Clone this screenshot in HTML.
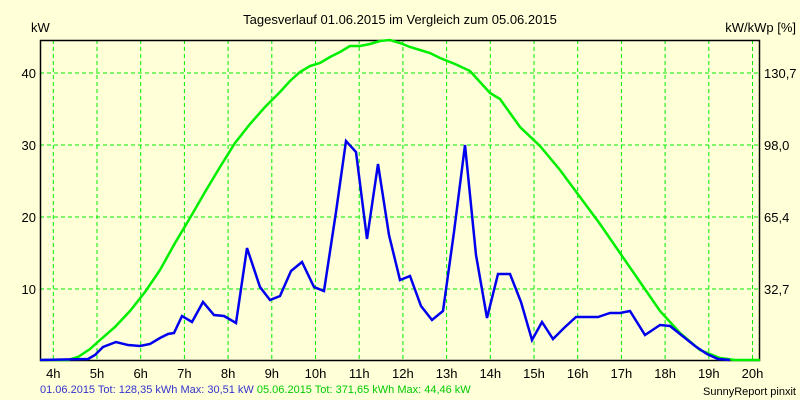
<!DOCTYPE html>
<html><head><meta charset="utf-8"><style>
html,body{margin:0;padding:0;background:#FFFFD8;}
svg{display:block;font-family:"Liberation Sans",sans-serif;}
</style></head><body>
<svg width="800" height="400" viewBox="0 0 800 400">
<rect width="800" height="400" fill="#FFFFD8"/>
<text x="400" y="24" font-size="13" text-anchor="middle" fill="#000">Tagesverlauf 01.06.2015 im Vergleich zum 05.06.2015</text>
<text x="31" y="32" font-size="13" fill="#000">kW</text>
<text x="796" y="32" font-size="13" text-anchor="end" fill="#000">kW/kWp [%]</text>
<g stroke="#00EE00" stroke-width="1" stroke-dasharray="4,3">
<line x1="53.3" y1="40" x2="53.3" y2="360"/><line x1="97" y1="40" x2="97" y2="360"/><line x1="140.7" y1="40" x2="140.7" y2="360"/><line x1="184.4" y1="40" x2="184.4" y2="360"/><line x1="228.1" y1="40" x2="228.1" y2="360"/><line x1="271.8" y1="40" x2="271.8" y2="360"/><line x1="315.5" y1="40" x2="315.5" y2="360"/><line x1="359.2" y1="40" x2="359.2" y2="360"/><line x1="402.9" y1="40" x2="402.9" y2="360"/><line x1="446.6" y1="40" x2="446.6" y2="360"/><line x1="490.3" y1="40" x2="490.3" y2="360"/><line x1="534" y1="40" x2="534" y2="360"/><line x1="577.7" y1="40" x2="577.7" y2="360"/><line x1="621.4" y1="40" x2="621.4" y2="360"/><line x1="665.1" y1="40" x2="665.1" y2="360"/><line x1="708.8" y1="40" x2="708.8" y2="360"/><line x1="752.5" y1="40" x2="752.5" y2="360"/>
<line x1="40" y1="73" x2="760" y2="73"/><line x1="40" y1="145" x2="760" y2="145"/><line x1="40" y1="217" x2="760" y2="217"/><line x1="40" y1="289" x2="760" y2="289"/>
</g>
<rect x="40.5" y="40.5" width="719" height="320" fill="none" stroke="#000" stroke-width="1.5"/>
<g font-size="13" fill="#000" text-anchor="end">
<text x="36" y="78">40</text><text x="36" y="150">30</text><text x="36" y="222">20</text><text x="36" y="294">10</text>
</g>
<g font-size="13" fill="#000">
<text x="764" y="78">130,7</text><text x="764" y="150">98,0</text><text x="764" y="222">65,4</text><text x="764" y="294">32,7</text>
</g>
<g font-size="13" fill="#000" text-anchor="middle">
<text x="53.3" y="378">4h</text><text x="97" y="378">5h</text><text x="140.7" y="378">6h</text><text x="184.4" y="378">7h</text><text x="228.1" y="378">8h</text><text x="271.8" y="378">9h</text><text x="315.5" y="378">10h</text><text x="359.2" y="378">11h</text><text x="402.9" y="378">12h</text><text x="446.6" y="378">13h</text><text x="490.3" y="378">14h</text><text x="534" y="378">15h</text><text x="577.7" y="378">16h</text><text x="621.4" y="378">17h</text><text x="665.1" y="378">18h</text><text x="708.8" y="378">19h</text><text x="752.5" y="378">20h</text>
</g>
<polyline fill="none" stroke="#00EE00" stroke-width="2.5" points="40,360 68,360 78,357 90,349 100,340 115,327 130,311 145,292 160,270 175,243 190,218 205,192 220,167 235,143 250,124 265,107 280,92 290,81 300,72 310,66 320,63 330,57 340,52 350,46 360,46 370,44 380,41 390,40 400,43 410,47 420,50 430,53 440,58 455,64 470,71 490,93 500,99 520,127 540,146 560,170 580,197 600,224 620,253 640,282 660,311 680,333 700,350 720,358 735,360 760,360"/>
<polyline fill="none" stroke="#0000EE" stroke-width="2.5" points="40,360 88,359 95,355 103,347 116,342 128,345 140,346 150,344 160,338 168,334 174,333 182,316 192,322 203,302 214,315 224,316 236,323 247,248 260,287 270,300 280,296 291,271 302,262 314,287 324,291 336,212 346,141 356,152 367,239 378,164 389,235 400,280 410,276 421,306 432,320 443,311 454,232 465,145 476,255 487,318 498,274 510,274 521,302 532,340 542,322 553,339 564,328 576,317 598,317 610,313 620,313 630,311 645,335 660,325 670,326 680,334 695,346 707,354 718,359 730,360"/>
<text x="40" y="393" font-size="11"><tspan fill="#3333CC">01.06.2015 Tot: 128,35 kWh Max: 30,51 kW </tspan><tspan fill="#00CC00">05.06.2015 Tot: 371,65 kWh Max: 44,46 kW</tspan></text>
<text x="796" y="395" font-size="11" text-anchor="end" fill="#000">SunnyReport pinxit</text>
</svg>
</body></html>
